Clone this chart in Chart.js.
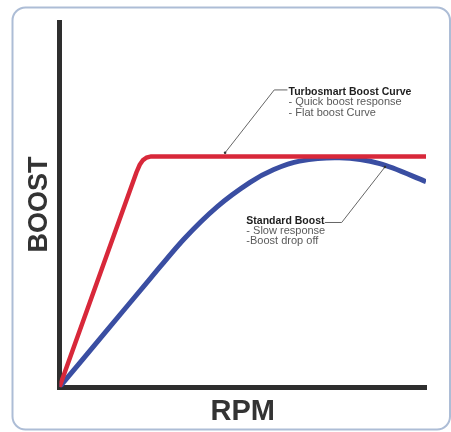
<!DOCTYPE html>
<html>
<head>
<meta charset="utf-8">
<script src="https://cdn.jsdelivr.net/npm/chart.js@4"></script>
<style>
  html, body { margin: 0; padding: 0; background: #ffffff; }
  canvas { display: block; }
</style>
</head>
<body>
<canvas id="c" width="451" height="432"></canvas>
<script>
// ---- data (RPM on 0..100, boost on 0..100, relative units) ----
const turboRpm   = [0, 21.0, 21.9, 22.8, 23.8, 25.0, 27.2, 100];
const turboBoost = [0, 58.8, 60.9, 62.2, 62.9, 63.2, 63.2, 63.2];

const stdRpm   = [0, 12.5, 25.0, 34.0, 43.0, 52.0, 58.5, 65.5, 76.4, 87.4, 100];
const stdBoost = [0, 15.0, 30.0, 40.6, 49.4, 56.1, 59.6, 61.9, 62.8, 61.2, 56.3];

const xTitle = 'RPM';
const yTitle = 'BOOST';

const turboNote = ['Turbosmart Boost Curve', '- Quick boost response', '- Flat boost Curve'];
const stdNote   = ['Standard Boost', '- Slow response', '-Boost drop off'];

// annotation placement (data units)
const notes = [
  { lines: turboNote, text: [62.5, 80.8], leader: [[62.2, 81.4], [58.6, 81.4], [45.2, 64.2]] },
  { lines: stdNote,   text: [51.0, 45.6], leader: [[72.4, 45.1], [77.0, 45.1], [88.8, 60.3]] }
];

const FONT = "'Liberation Sans', Arial, sans-serif";

const framePlugin = {
  id: 'frame',
  beforeDraw(chart) {
    const ctx = chart.ctx;
    ctx.save();
    ctx.fillStyle = '#ffffff';
    ctx.fillRect(0, 0, chart.width, chart.height);
    const x = 12.5, y = 7.5, w = 437.5, h = 422, r = 13;
    ctx.beginPath();
    ctx.moveTo(x + r, y);
    ctx.arcTo(x + w, y, x + w, y + h, r);
    ctx.arcTo(x + w, y + h, x, y + h, r);
    ctx.arcTo(x, y + h, x, y, r);
    ctx.arcTo(x, y, x + w, y, r);
    ctx.closePath();
    ctx.strokeStyle = '#adbdd6';
    ctx.lineWidth = 2;
    ctx.stroke();
    ctx.restore();
  }
};

const notesPlugin = {
  id: 'notes',
  afterDraw(chart) {
    const ctx = chart.ctx, xs = chart.scales.x, ys = chart.scales.y;
    ctx.save();
    notes.forEach(n => {
      ctx.beginPath();
      n.leader.forEach((p, i) => {
        const px = xs.getPixelForValue(p[0]), py = ys.getPixelForValue(p[1]);
        if (i === 0) ctx.moveTo(px, py); else ctx.lineTo(px, py);
      });
      ctx.strokeStyle = '#666';
      ctx.lineWidth = 1;
      ctx.stroke();
      const last = n.leader[n.leader.length - 1];
      ctx.beginPath();
      ctx.arc(xs.getPixelForValue(last[0]), ys.getPixelForValue(last[1]), 1.3, 0, Math.PI * 2);
      ctx.fillStyle = '#333';
      ctx.fill();

      const tx = xs.getPixelForValue(n.text[0]);
      const ty = ys.getPixelForValue(n.text[1]);
      ctx.textBaseline = 'middle';
      ctx.textAlign = 'left';
      n.lines.forEach((t, i) => {
        if (i === 0) { ctx.font = 'bold 10.5px ' + FONT; ctx.fillStyle = '#1e1e1e'; }
        else { ctx.font = '11px ' + FONT; ctx.fillStyle = '#5a5a5a'; }
        ctx.fillText(t, tx, ty + i * 10.2);
      });
    });
    ctx.restore();
  }
};

new Chart(document.getElementById('c'), {
  type: 'line',
  data: {
    datasets: [
      {
        label: 'Turbosmart Boost Curve',
        data: turboRpm.map((x, i) => ({ x, y: turboBoost[i] })),
        borderColor: '#d8283a',
        borderWidth: 4.5,
        tension: 0,
        pointRadius: 0,
        fill: false,
        order: 0
      },
      {
        label: 'Standard Boost',
        data: stdRpm.map((x, i) => ({ x, y: stdBoost[i] })),
        borderColor: '#3a4ea2',
        borderWidth: 5,
        tension: 0.3,
        pointRadius: 0,
        fill: false,
        order: 1
      }
    ]
  },
  options: {
    responsive: false,
    animation: false,
    devicePixelRatio: 1,
    layout: { padding: { left: 19, right: 25, top: 22, bottom: 3 } },
    plugins: { legend: { display: false }, tooltip: { enabled: false } },
    scales: {
      x: {
        type: 'linear', min: 0, max: 100,
        ticks: { display: false },
        grid: { display: false, drawTicks: false },
        border: { display: true, color: '#2e2e2e', width: 5 },
        title: { display: true, text: xTitle, color: '#333', font: { family: FONT, size: 29, weight: 'bold' }, padding: { top: 7, bottom: 0 } }
      },
      y: {
        type: 'linear', min: 0, max: 100,
        ticks: { display: false },
        grid: { display: false, drawTicks: false },
        border: { display: true, color: '#2e2e2e', width: 5 },
        title: { display: true, text: yTitle, color: '#333', font: { family: FONT, size: 27, weight: 'bold' }, padding: { top: 4, bottom: 4 } }
      }
    }
  },
  plugins: [framePlugin, notesPlugin]
});
</script>
</body>
</html>
